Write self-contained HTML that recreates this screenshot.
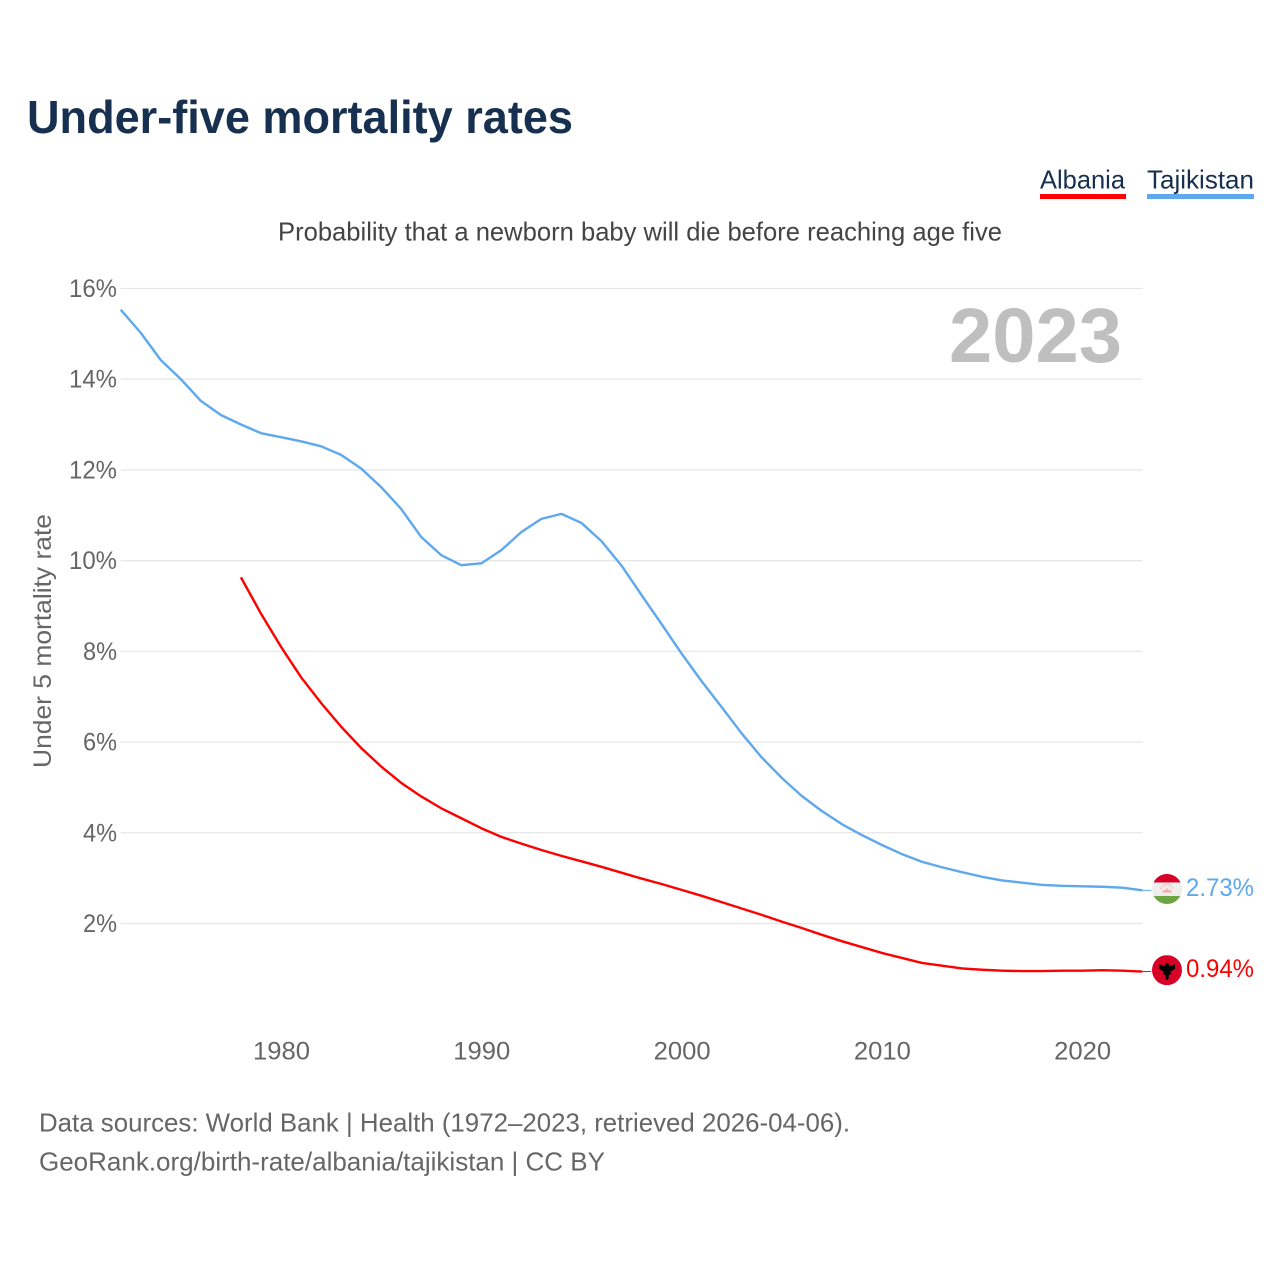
<!DOCTYPE html>
<html lang="en">
<head>
<meta charset="utf-8">
<title>Under-five mortality rates</title>
<style>
html,body{margin:0;padding:0;background:#fff;}
body{width:1280px;height:1280px;overflow:hidden;}
svg{display:block;}
text{font-family:"Liberation Sans",sans-serif;}
</style>
</head>
<body>
<svg id="chart" width="1280" height="1280" viewBox="0 0 1280 1280" xmlns="http://www.w3.org/2000/svg">
  <defs>
    <clipPath id="flag-clip-tj"><circle cx="0" cy="0" r="15"/></clipPath>
    <clipPath id="flag-clip-al"><circle cx="0" cy="0" r="15"/></clipPath>
  </defs>
  <text x="27" y="133" font-size="46" font-weight="700" fill="#17304f" textLength="546" lengthAdjust="spacingAndGlyphs">Under-five mortality rates</text>

  <g>
    <text x="1040" y="188.5" font-size="26" fill="#17304f" textLength="85" lengthAdjust="spacingAndGlyphs">Albania</text>
    <rect x="1040" y="194" width="86" height="5" fill="#ff0000"/>
  </g>
  <g>
    <text x="1147" y="188.5" font-size="26" fill="#17304f" textLength="107" lengthAdjust="spacingAndGlyphs">Tajikistan</text>
    <rect x="1147" y="194" width="107" height="5" fill="#5ea8ee"/>
  </g>

  <text x="278" y="240.5" font-size="26" fill="#444444" textLength="724" lengthAdjust="spacingAndGlyphs">Probability that a newborn baby will die before reaching age five</text>

  <g id="grid"></g>
  <g id="yticks"></g>
  <g id="xticks"></g>

  <text transform="translate(51,768) rotate(-90)" x="0" y="0" font-size="25" fill="#666666" textLength="254" lengthAdjust="spacingAndGlyphs">Under 5 mortality rate</text>

  <text x="949" y="362" font-size="77" font-weight="700" fill="#bfbfbf" textLength="173" lengthAdjust="spacingAndGlyphs">2023</text>

  <g id="series"></g>

  <g id="flag-tj">
    <g clip-path="url(#flag-clip-tj)">
      <rect x="-15" y="-15" width="30" height="30" fill="#eeeeee"/>
      <rect x="-15" y="-15" width="30" height="8.5" fill="#d80027"/>
      <rect x="-15" y="7" width="30" height="8" fill="#6da544"/>
      <path d="M-4.5 3.5 L4.5 3.5 L3.8 0.6 L1.8 1.8 L0 -1 L-1.8 1.8 L-3.8 0.6 Z" fill="#f7a8a0"/>
      <path d="M-6 0 A6.2 6.2 0 0 1 6 0" fill="none" stroke="#f7a8a0" stroke-width="1.2" stroke-dasharray="1.2 1.2"/>
    </g>
  </g>
  <g id="flag-al">
    <g clip-path="url(#flag-clip-al)">
      <rect x="-15" y="-15" width="30" height="30" fill="#d80027"/>
      <path d="M-1.6 -7 L1.6 -7 L2 -4 L8 -6 L8 -1.5 L4.5 1 L3 1 L4.5 4 L2 4.5 L1.5 8.5 L0 10 L-1.5 8.5 L-2 4.5 L-4.5 4 L-3 1 L-4.5 1 L-8 -1.5 L-8 -6 L-2 -4 Z" fill="#000000"/>
    </g>
  </g>

  <text id="value-tj" x="1186" font-size="25" fill="#5ea8ee" textLength="68" lengthAdjust="spacingAndGlyphs"></text>
  <text id="value-al" x="1186" font-size="25" fill="#ff0000" textLength="68" lengthAdjust="spacingAndGlyphs"></text>

  <text x="39" y="1131.5" font-size="26" fill="#666666" textLength="811" lengthAdjust="spacingAndGlyphs">Data sources: World Bank | Health (1972–2023, retrieved 2026-04-06).</text>
  <text x="39" y="1170.5" font-size="26" fill="#666666" textLength="566" lengthAdjust="spacingAndGlyphs">GeoRank.org/birth-rate/albania/tajikistan | CC BY</text>
</svg>
<script>
const yTickValues = [2, 4, 6, 8, 10, 12, 14, 16];
const xTickYears = [1980, 1990, 2000, 2010, 2020];
const tajikistanStartYear = 1972;
const albaniaStartYear = 1978;
const tajikistanValues = [15.53, 15.02, 14.42, 14.0, 13.52, 13.21, 13.0, 12.81, 12.72, 12.63, 12.52, 12.33, 12.03, 11.62, 11.14, 10.52, 10.12, 9.9, 9.94, 10.23, 10.63, 10.92, 11.03, 10.83, 10.43, 9.89, 9.24, 8.6, 7.95, 7.34, 6.77, 6.19, 5.66, 5.21, 4.81, 4.48, 4.19, 3.95, 3.73, 3.53, 3.36, 3.24, 3.13, 3.03, 2.95, 2.9, 2.85, 2.83, 2.82, 2.81, 2.79, 2.73];
const albaniaValues = [9.63, 8.83, 8.1, 7.43, 6.86, 6.34, 5.87, 5.46, 5.1, 4.8, 4.54, 4.32, 4.1, 3.91, 3.76, 3.62, 3.49, 3.37, 3.25, 3.12, 2.99, 2.87, 2.74, 2.61, 2.47, 2.33, 2.19, 2.04, 1.9, 1.75, 1.61, 1.48, 1.35, 1.24, 1.13, 1.07, 1.01, 0.98, 0.96, 0.95, 0.95, 0.96, 0.96, 0.97, 0.96, 0.94];

const SVGNS = 'http://www.w3.org/2000/svg';
const xScale = function (year) { return 281 + (year - 1980) * 20.03; };
const yScale = function (v) { return 1014.2 - v * 45.36; };
const plotLeft = xScale(tajikistanStartYear);
const plotRight = xScale(2023);

const gridG = document.getElementById('grid');
const yG = document.getElementById('yticks');
const xG = document.getElementById('xticks');
const seriesG = document.getElementById('series');

yTickValues.forEach(function (v) {
  const line = document.createElementNS(SVGNS, 'line');
  
  
  line.setAttribute('x1', plotLeft);
  line.setAttribute('x2', plotRight);
  line.setAttribute('y1', yScale(v));
  line.setAttribute('y2', yScale(v));
  line.setAttribute('stroke', '#e6e6e6');
  line.setAttribute('stroke-width', '1.2');
  gridG.appendChild(line);

  const label = String(v) + '%';
  const t = document.createElementNS(SVGNS, 'text');
  
  
  t.setAttribute('x', 117 - ((label.length - 1) * 14 + 20));
  t.setAttribute('y', yScale(v) + 8.5);
  t.setAttribute('font-size', '25');
  t.setAttribute('fill', '#666666');
  t.setAttribute('textLength', (label.length - 1) * 14 + 20);
  t.setAttribute('lengthAdjust', 'spacingAndGlyphs');
  t.textContent = label;
  yG.appendChild(t);
});

xTickYears.forEach(function (yr) {
  const t = document.createElementNS(SVGNS, 'text');
  
  
  t.setAttribute('x', xScale(yr) - 28);
  t.setAttribute('y', 1059.5);
  t.setAttribute('font-size', '25');
  t.setAttribute('fill', '#666666');
  t.setAttribute('textLength', '57');
  t.setAttribute('lengthAdjust', 'spacingAndGlyphs');
  t.textContent = String(yr);
  xG.appendChild(t);
});

function drawSeries(values, startYear, color, name) {
  const pts = values.map(function (v, i) {
    return xScale(startYear + i).toFixed(2) + ',' + yScale(v).toFixed(2);
  }).join(' ');
  const poly = document.createElementNS(SVGNS, 'polyline');
  
  
  poly.setAttribute('points', pts);
  poly.setAttribute('fill', 'none');
  poly.setAttribute('stroke', color);
  poly.setAttribute('stroke-width', '2.4');
  poly.setAttribute('stroke-linejoin', 'round');
  seriesG.appendChild(poly);

  const last = values[values.length - 1];
  const conn = document.createElementNS(SVGNS, 'line');
  
  
  conn.setAttribute('x1', plotRight);
  conn.setAttribute('x2', plotRight + 9);
  conn.setAttribute('y1', yScale(last));
  conn.setAttribute('y2', yScale(last));
  conn.setAttribute('stroke', color);
  conn.setAttribute('stroke-width', '1');
  seriesG.appendChild(conn);
}
drawSeries(tajikistanValues, tajikistanStartYear, '#5ea8ee', 'line-tajikistan');
drawSeries(albaniaValues, albaniaStartYear, '#ff0000', 'line-albania');

function placeEnd(values, flagId, valueId) {
  const last = values[values.length - 1];
  const y = yScale(last);
  document.getElementById(flagId).setAttribute('transform', 'translate(1167,' + (y - 1.4) + ')');
  const t = document.getElementById(valueId);
  t.setAttribute('y', y + 5.4);
  t.textContent = last.toFixed(2) + '%';
}
placeEnd(tajikistanValues, 'flag-tj', 'value-tj');
placeEnd(albaniaValues, 'flag-al', 'value-al');
</script>
</body>
</html>
